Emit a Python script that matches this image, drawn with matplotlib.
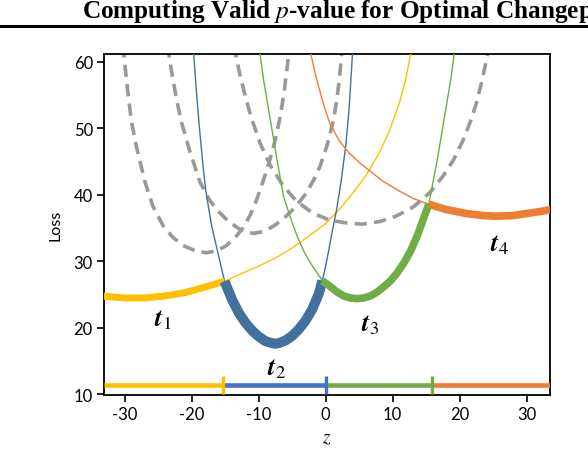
import matplotlib
matplotlib.use("Agg")
import matplotlib.pyplot as plt
import numpy as np
from matplotlib.lines import Line2D

plt.rcParams['axes.unicode_minus'] = False

# loss curves (z, loss)
yellow_z = [-33.5, -30, -27, -24, -21, -18.5, -15.1, -12.5, -10, -7.5, -5, -2.5, 0, 2, 4, 6, 8, 9.5, 11, 12, 12.8]
yellow_l = [24.8, 24.5, 24.5, 24.8, 25.3, 26.0, 27.0, 28.2, 29.3, 30.5, 32.0, 33.8, 35.7, 37.8, 40.2, 42.9, 46.3, 49.6, 53.8, 57.6, 61.8]

blue_z = [-19.8, -19.3, -18.8, -18.3, -17.9, -17.0, -16.0, -15.1, -14.0, -13.0, -12.0, -11.0, -10.0, -9.0, -8.0, -7.6,
          -7.0, -6.0, -5.0, -4.0, -3.0, -2.0, -1.0, -0.5, 0.0, 0.5, 1.0, 1.6, 2.3, 3.0, 3.5, 3.9, 4.1]
blue_l = [62.5, 55.5, 49.5, 44.2, 40.6, 35.2, 30.9, 27.0, 24.3, 22.3, 20.8, 19.6, 18.7, 18.0, 17.7, 17.6,
          17.7, 18.1, 18.8, 19.8, 21.1, 22.8, 25.2, 27.1, 29.3, 31.9, 34.6, 37.6, 42.0, 47.4, 53.0, 59.5, 63.0]

green_z = [-9.9, -9.3, -8.3, -7.3, -6.3, -5.3, -4.3, -3.3, -2.3, -1.3, -0.5, 0.7, 1.7, 2.7, 3.7, 4.7, 5.7,
           6.7, 7.7, 8.7, 9.7, 10.7, 11.7, 12.7, 13.7, 14.7, 15.4, 16.7, 17.7, 18.7, 19.3]
green_l = [62.0, 57.5, 51.5, 45.5, 39.8, 36.7, 33.9, 31.6, 29.8, 28.3, 27.1, 26.2, 25.4, 24.8, 24.5, 24.4, 24.5,
           24.8, 25.4, 26.2, 27.1, 28.3, 29.8, 31.6, 33.9, 36.7, 38.6, 45.5, 51.5, 57.5, 62.0]

orange_z = [-2.4, -1.5, -0.5, 0.6, 2, 3.5, 5, 6.6, 8.5, 10.8, 13, 15.4, 18, 21, 23.5, 25.5, 28, 30, 32, 33.6]
orange_l = [62.0, 58.0, 54.2, 50.8, 48.2, 46.3, 44.9, 43.6, 42.1, 40.7, 39.5, 38.6, 37.8, 37.2, 36.9, 36.8, 36.9, 37.2, 37.5, 37.8]

# gray dashed curves
gray_a_z = [-30.3, -29.6, -29.0, -28.2, -27.0, -25.8, -24.3, -22.8, -21.3, -19.5, -17.8, -16.2, -14.8, -13.5,
            -12.3, -11.3, -10.3, -9.3, -8.3, -7.5, -6.8, -6.2, -5.6, -5.3]
gray_a_l = [62.5, 56.0, 51.0, 47.0, 42.0, 38.3, 35.4, 33.6, 32.4, 31.6, 31.3, 31.6, 32.4, 33.6,
            35.1, 36.9, 39.3, 42.2, 45.4, 48.4, 51.7, 55.5, 60.5, 63.5]
gray_b_z = [-23.6, -23.0, -22.3, -21.5, -20.3, -18.8, -17.5, -16.3, -14.5, -12.8, -10.8, -9.3, -7.8, -6.3,
            -4.5, -2.8, -1.5, -0.85, 0.2, 1.1, 1.7, 2.1, 2.5]
gray_b_l = [62.5, 58.5, 54.5, 50.8, 46.6, 42.0, 39.5, 37.8, 36.0, 34.8, 34.2, 34.5, 35.3, 36.4,
            38.2, 40.4, 42.8, 44.3, 47.4, 51.0, 54.5, 58.0, 62.5]
gray_c_z = [-13.7, -12.9, -12.0, -11.0, -9.8, -8.3, -6.5, -4.5, -2.0, 0.6, 3.0, 5.4, 8.1, 10.5, 13.1, 15.6,
            17.5, 19.1, 20.5, 21.6, 22.5, 23.3, 24.0, 24.6]
gray_c_l = [62.5, 58.5, 54.8, 51.3, 47.8, 44.5, 41.6, 39.2, 37.3, 36.2, 35.8, 35.6, 36.0, 36.8, 38.2, 40.4,
            42.8, 45.3, 48.2, 51.0, 53.8, 57.0, 60.3, 63.0]

# where each curve is the optimal one
seg_start = [-34, -15.1, -0.5, 15.4]
seg_end = [-15.1, -0.5, 15.4, 34]
# bottom interval bar
bar_breaks = [-33.1, -15.4, 0.0, 15.9, 33.5]
bar_level = 11.35

labels = [r'$\mathbfit{t}_{1}$', r'$\mathbfit{t}_{2}$', r'$\mathbfit{t}_{3}$', r'$\mathbfit{t}_{4}$']
label_z = [-24.3, -7.3, 6.6, 26.0]
label_l = [21.4, 14.1, 20.6, 32.7]

curve_colors = ['#FFC000', '#41719C', '#70AD47', '#ED7D31']
bar_colors = ['#FFC000', '#4472C4', '#70AD47', '#ED7D31']

fig = plt.figure(figsize=(5.88, 4.52), dpi=100)
ax = fig.add_axes([0.1769, 0.1239, 0.7585, 0.7544])

for gz, gl in [(gray_a_z, gray_a_l), (gray_b_z, gray_b_l), (gray_c_z, gray_c_l)]:
    ax.plot(gz, gl, color='#999999', lw=2.6, ls=(0, (3.4, 2.0)), zorder=2)

curves = [(yellow_z, yellow_l), (blue_z, blue_l), (green_z, green_l), (orange_z, orange_l)]
thick = [5.0, 7.2, 5.5, 5.5]
for i, (cz, cl) in enumerate(curves):
    cz = np.array(cz)
    cl = np.array(cl)
    ax.plot(cz, cl, color=curve_colors[i], lw=1.0, zorder=3)
    m = (cz >= seg_start[i]) & (cz <= seg_end[i])
    ax.plot(cz[m], cl[m], color=curve_colors[i], lw=thick[i], solid_capstyle='butt', zorder=4)

for i in range(4):
    ax.plot([bar_breaks[i], bar_breaks[i + 1]], [bar_level, bar_level], color=bar_colors[i],
            lw=3.3, solid_capstyle='butt', zorder=4)
    if i < 3:
        ax.plot([bar_breaks[i + 1]], [bar_level], marker='|', ms=13, mew=2.4,
                color=bar_colors[i], zorder=5)

for i in range(4):
    ax.text(label_z[i], label_l[i], labels[i], fontsize=19, math_fontfamily='stix',
            ha='center', va='center', zorder=6)

ax.set_xlim(-33.1, 33.5)
ax.set_ylim(9.9, 61.2)
ax.set_xticks([-30, -20, -10, 0, 10, 20, 30])
ax.set_yticks([10, 20, 30, 40, 50, 60])
ax.tick_params(direction='out', length=5, width=1.2, labelsize=12, pad=3)
for lab in ax.get_xticklabels() + ax.get_yticklabels():
    lab.set_fontfamily('Lato')
for sp in ax.spines.values():
    sp.set_linewidth(1.3)
ax.set_ylabel('Loss', fontsize=11.5, family='Lato', labelpad=8)
ax.set_xlabel(r'$z$', fontsize=14, math_fontfamily='stix', labelpad=4)

fig.text(82 / 588, 1 - 18 / 452, r'Computing Valid $p$-value for Optimal Changep',
         family='Liberation Serif', weight='bold', fontsize=18.2, math_fontfamily='stix',
         ha='left', va='baseline')
fig.add_artist(Line2D([0, 1], [1 - 27 / 452, 1 - 27 / 452], color='black', lw=2.2,
                      transform=fig.transFigure))

fig.savefig('out.png', dpi=100)
